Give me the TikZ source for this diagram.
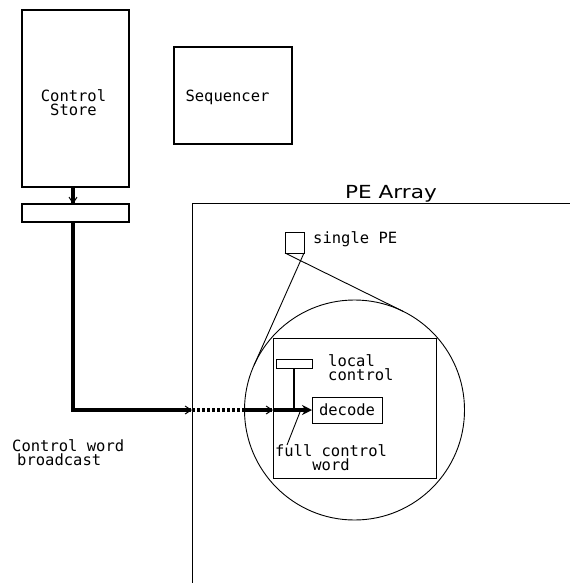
\documentclass[tikz,border=0pt]{standalone}
\usepackage{fontspec}
\setmainfont{DejaVu Sans}
\newfontfamily\plotfont{DejaVu Sans Mono}
\usetikzlibrary{calc,arrows.meta}
\begin{document}
\begin{tikzpicture}[x=1pt,y=-1pt,
  box/.style={draw, line width=1.2pt, inner sep=0pt, outer sep=0pt, anchor=north west},
  lbl/.style={font=\plotfont\fontsize{15.5}{14}\selectfont, inner sep=0pt},
  thinline/.style={line width=0.9pt},
  bus/.style={line width=3.2pt},
  barb/.style={-{Straight Barb[length=6pt,width=8pt,line width=1pt]}},
  headtip/.style={-{Stealth[length=10pt,width=10pt]}}
]
\useasboundingbox (0,0) rectangle (570,583);

% boxes
\node[box, minimum width=107pt, minimum height=177pt] (cs) at (22,10) {};
\node[box, minimum width=118pt, minimum height=97pt] (seq) at (174,47) {};
\node[box, minimum width=107pt, minimum height=18pt] (bar) at (22,204) {};
\node[box, line width=1pt, minimum width=19pt, minimum height=21pt] (pe) at (285,232) {};
\node[box, line width=1pt, minimum width=163pt, minimum height=140pt] (inner) at (273,338) {};
\node[box, line width=1pt, minimum width=36pt, minimum height=9pt] (lc) at (276,359) {};
\node[box, line width=1pt, minimum width=70pt, minimum height=26pt] (dec) at (312,397) {};
\node[draw, circle, line width=0.9pt, minimum size=220pt, inner sep=0pt, outer sep=0pt] (circ) at (354.5,410) {};

% texts
\node[lbl, align=center] (cstxt) at (73.5,103.1) {Control\\Store};
\node[lbl, anchor=base] (seqtxt) at (227.5,102) {Sequencer};
\node[font=\fontsize{18}{20}\selectfont, inner sep=0pt, anchor=base] (patxt) at (391,198) {\scalebox{1.2}[1]{PE Array}};
\node[lbl, anchor=base west] (petxt) at (313,243) {single PE};
\node[lbl, align=left, anchor=west] (lctxt) at (328,368.1) {local\\control};
\node[lbl] (dectxt) at (dec.center) {decode};
\node[lbl, align=center] (fcw) at (331,458.1) {full control\\word};
\node[lbl, align=left, anchor=west] (cwb) at (12,452.6) {Control word\\\hspace*{5pt}broadcast};

% PE array frame
\coordinate (pabl) at (192,583);
\coordinate (patl) at (192,203);
\coordinate (patr) at (570,203);
\draw[thinline] (pabl) -- (patl) -- (patr);

% tangent lines from single PE to circle
\draw[thinline] (pe.south west) -- (tangent cs:node=circ,point={(pe.south west)},solution=2);
\draw[thinline] (pe.south east) -- (tangent cs:node=circ,point={(pe.south east)},solution=1);

% bus
\coordinate (j1) at (192,410);
\coordinate (j2) at (243,410);
\coordinate (j3) at (273,410);
\coordinate (j4) at (294,410);
\coordinate (lead) at (300,412);
\draw[bus, barb] ([xshift=-2.5pt]cs.south) -- ([xshift=-2.5pt]bar.north);
\draw[bus, barb] ([xshift=-2.5pt]bar.south) |- (j1);
\draw[bus, densely dashed] (j1) -- (j2);
\draw[bus, barb] (j2) -- (j3);
\draw[bus, headtip] (j3) -- (dec.west);
\draw[line width=1.4pt] (lc.south) -- (j4);
\draw[thinline] (287,445) -- (lead);
\end{tikzpicture}
\end{document}
